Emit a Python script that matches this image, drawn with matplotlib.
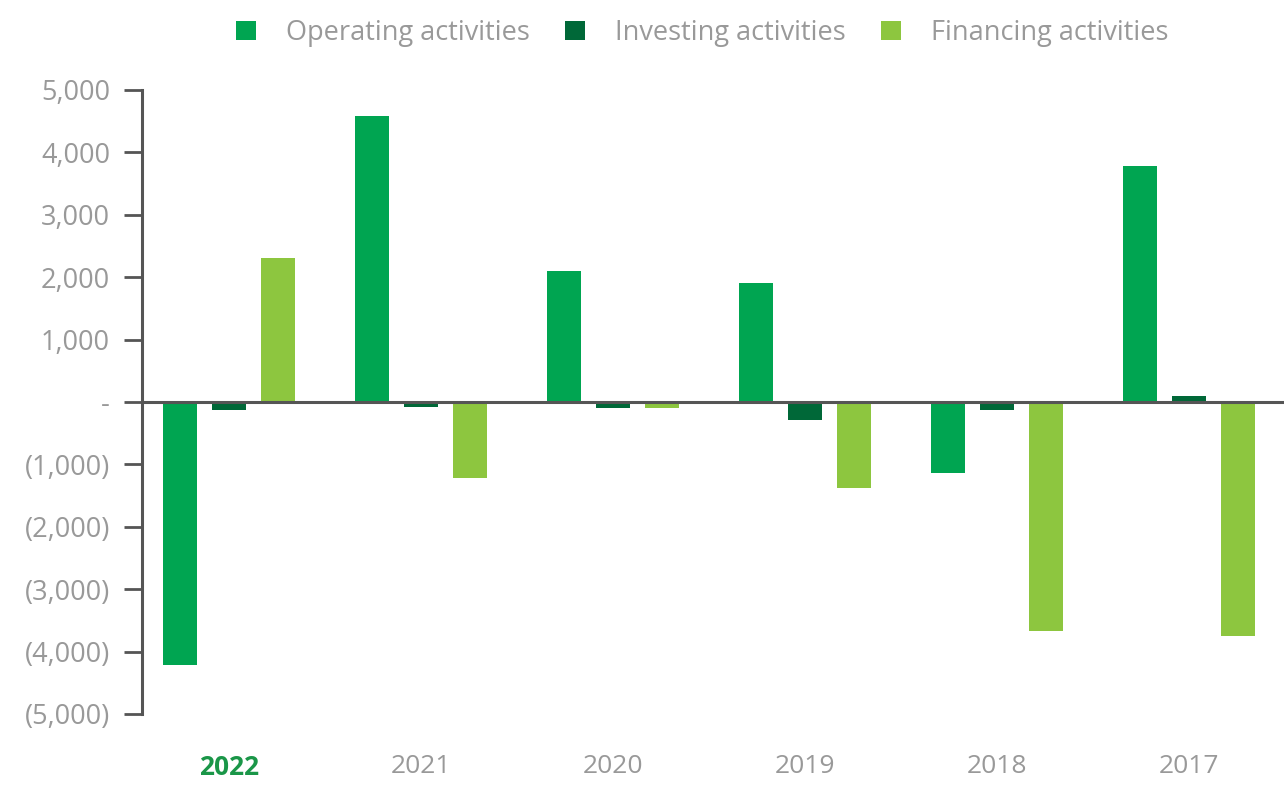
import numpy as np
import matplotlib.pyplot as plt
from matplotlib.ticker import FuncFormatter

# --- Data ---
years = ["2022", "2021", "2020", "2019", "2018", "2017"]
operating = [-4210, 4580, 2100, 1910, -1140, 3780]
investing = [-130, -80, -90, -290, -130, 100]
financing = [2310, -1220, -100, -1380, -3670, -3750]

c_oper = "#00A551"
c_inv = "#006838"
c_fin = "#8DC63F"
grey = "#999999"
axis_col = "#555555"

plt.rcParams['font.family'] = ['Open Sans', 'DejaVu Sans']

fig = plt.figure(figsize=(12.84, 7.85), dpi=100)
ax = fig.add_axes([142 / 1284, 71 / 785, 1 - 142 / 1284, 624 / 785])

x = np.arange(len(years))
width = 0.18
step = 0.255

ax.bar(x - step, operating, width=width, color=c_oper, label="Operating activities")
ax.bar(x, investing, width=width, color=c_inv, label="Investing activities")
ax.bar(x + step, financing, width=width, color=c_fin, label="Financing activities")

ax.axhline(0, color=axis_col, linewidth=2.2, zorder=3)

ax.set_ylim(-5000, 5000)
ax.set_xlim(-0.453, 5.495)
ax.set_yticks(np.arange(-5000, 5001, 1000))


def fmt(v, pos):
    if v == 0:
        return "-"
    if v < 0:
        return f"({abs(v):,.0f})"
    return f"{v:,.0f}"


ax.yaxis.set_major_formatter(FuncFormatter(fmt))
ax.tick_params(axis='y', direction='out', length=13, width=2, color=axis_col,
               labelsize=19.5, labelcolor=grey, pad=10)

ax.set_xticks(x)
ax.set_xticklabels(years)
ax.tick_params(axis='x', length=0, labelsize=19, labelcolor=grey, pad=29)
lbl = ax.get_xticklabels()[0]
lbl.set_color("#1A9648")
lbl.set_fontweight("bold")

for s in ["top", "right", "bottom"]:
    ax.spines[s].set_visible(False)
ax.spines["left"].set_color(axis_col)
ax.spines["left"].set_linewidth(2.2)

leg = fig.legend(loc="center", bbox_to_anchor=(702 / 1284, 1 - 33 / 785), ncol=3,
                 frameon=False, fontsize=19.5, handlelength=0.75, handleheight=0.75,
                 columnspacing=1.3, handletextpad=1.1)
for t in leg.get_texts():
    t.set_color(grey)

fig.savefig("out.png", dpi=100)
